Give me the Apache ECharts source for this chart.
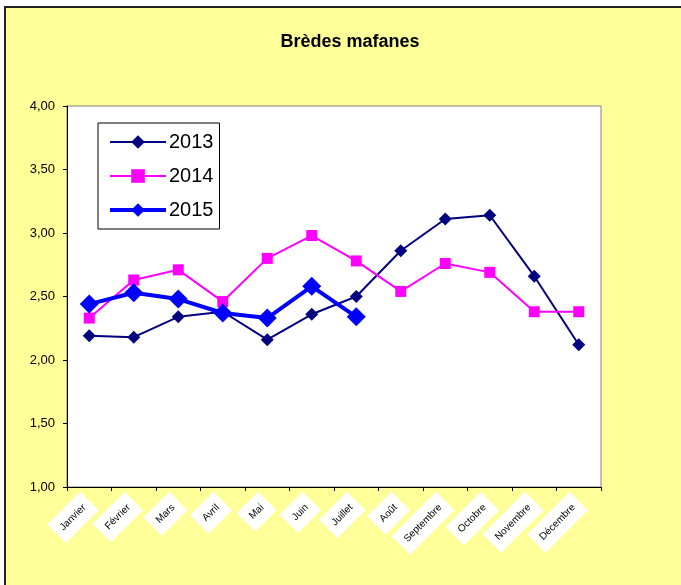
<!DOCTYPE html>
<html>
<head>
<meta charset="utf-8">
<script src="https://cdn.jsdelivr.net/npm/echarts@6/dist/echarts.min.js"></script>
<style>
  html, body { margin: 0; padding: 0; background: #fff; overflow: hidden; width: 681px; height: 585px; }
  .frame {
    position: absolute; left: 4px; top: 6px;
    width: 700px; height: 600px;
    border-left: 2px solid #222; border-top: 2px solid #222;
    background: #ffff99;
  }
  #chart { width: 700px; height: 600px; }
</style>
</head>
<body>
<div class="frame"><div id="chart"></div></div>
<script>
// mois
const categories = ['Janvier', 'Février', 'Mars', 'Avril', 'Mai', 'Juin', 'Juillet', 'Août', 'Septembre', 'Octobre', 'Novembre', 'Décembre']
const values2013 = [2.19, 2.18, 2.34, 2.38, 2.16, 2.36, 2.50, 2.86, 3.11, 3.14, 2.66, 2.12]
const values2014 = [2.33, 2.63, 2.71, 2.46, 2.80, 2.98, 2.78, 2.54, 2.76, 2.69, 2.38, 2.38]
const values2015 = [2.44, 2.53, 2.48, 2.37, 2.33, 2.58, 2.34]

const font = 'Liberation Sans, Arial, sans-serif'

const chart = echarts.init(document.getElementById('chart'))
chart.setOption({
  backgroundColor: 'transparent',
  animation: false,
  title: {
    text: 'Brèdes mafanes',
    left: 339,
    textAlign: 'center',
    top: 20,
    textStyle: { fontFamily: font, fontSize: 18, fontWeight: 'bold', color: '#000' }
  },
  legend: {
    orient: 'vertical',
    left: 92,
    top: 115,
    width: 121,
    padding: [9, 6, 9, 10],
    itemGap: 14,
    itemWidth: 56,
    itemHeight: 17,
    borderColor: '#000',
    borderWidth: 1,
    backgroundColor: '#fff',
    textStyle: { fontFamily: font, fontSize: 20, color: '#000', padding: [0, 0, 0, -2] },
    data: [
      { name: '2013', lineStyle: { width: 2 } },
      { name: '2014', lineStyle: { width: 2 } },
      { name: '2015', lineStyle: { width: 4 } }
    ]
  },
  grid: {
    left: 61,
    top: 98,
    width: 534,
    height: 381,
    show: true,
    backgroundColor: '#fff',
    borderColor: '#808080',
    borderWidth: 1
  },
  xAxis: {
    type: 'category',
    data: categories,
    boundaryGap: true,
    axisLine: { lineStyle: { color: '#000', width: 1 } },
    axisTick: { show: true, length: 4, inside: false, lineStyle: { color: '#000' } },
    axisLabel: {
      interval: 0,
      rotate: 45,
      margin: 14,
      fontFamily: font,
      fontSize: 10,
      color: '#000',
      backgroundColor: '#fff',
      padding: [8, 7]
    },
    splitLine: { show: false }
  },
  yAxis: {
    type: 'value',
    min: 1,
    max: 4,
    interval: 0.5,
    axisLine: { show: true, lineStyle: { color: '#000', width: 1 } },
    axisTick: { show: true, length: 4, lineStyle: { color: '#000' } },
    axisLabel: {
      margin: 12,
      fontFamily: font,
      fontSize: 13,
      color: '#000',
      formatter: v => v.toFixed(2).replace('.', ',')
    },
    splitLine: { show: false }
  },
  series: [
    {
      name: '2013',
      type: 'line',
      data: values2013,
      symbol: 'diamond',
      symbolSize: 13,
      color: '#000080',
      lineStyle: { width: 2, color: '#000080' }
    },
    {
      name: '2014',
      type: 'line',
      data: values2014,
      symbol: 'rect',
      symbolSize: 11,
      color: '#ff00ff',
      lineStyle: { width: 2, color: '#ff00ff' }
    },
    {
      name: '2015',
      type: 'line',
      data: values2015,
      symbol: 'diamond',
      symbolSize: 19,
      color: '#0000ff',
      lineStyle: { width: 4, color: '#0000ff' }
    }
  ]
})
</script>
</body>
</html>
